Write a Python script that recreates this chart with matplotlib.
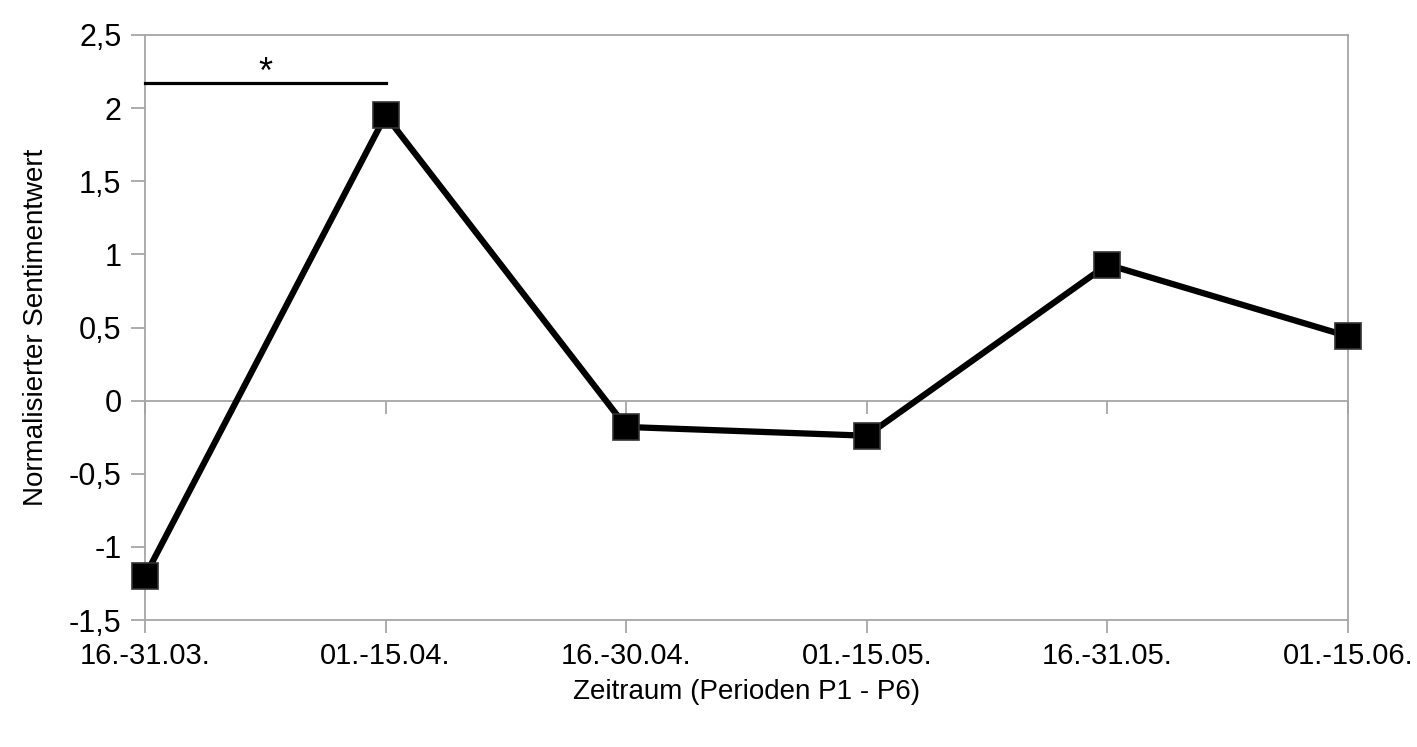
import matplotlib
matplotlib.use('Agg')
import matplotlib.pyplot as plt

# data
perioden = ['16.-31.03.', '01.-15.04.', '16.-30.04.', '01.-15.05.', '16.-31.05.', '01.-15.06.']
sentiment = [-1.2, 1.95, -0.18, -0.24, 0.93, 0.44]
y_ticks = [-1.5, -1, -0.5, 0, 0.5, 1, 1.5, 2, 2.5]
y_ticklabels = ['-1,5', '-1', '-0,5', '0', '0,5', '1', '1,5', '2', '2,5']
sig_pair = [0, 1]
sig_level = 2.17

plt.rcParams['font.family'] = ['Liberation Sans', 'DejaVu Sans']
grey = '#a6a6a6'

fig = plt.figure(figsize=(14.17, 7.47), dpi=100)
ax = fig.add_axes([145/1417, 1-620/747, (1348-145)/1417, (620-35)/747])

x = list(range(len(perioden)))
ax.plot(x, sentiment, color='black', linewidth=4.5, marker='s', markersize=19,
        markerfacecolor='black', markeredgecolor='#333333', markeredgewidth=1.2,
        solid_joinstyle='miter', clip_on=False, zorder=5)

ax.set_xlim(0, len(perioden)-1)
ax.set_ylim(y_ticks[0], y_ticks[-1])

ax.set_yticks(y_ticks)
ax.set_yticklabels(y_ticklabels)
ax.set_xticks(x)
ax.set_xticklabels(perioden)

for s in ax.spines.values():
    s.set_color(grey)
    s.set_linewidth(1.3)

ax.tick_params(axis='y', length=10, width=1.3, color=grey, labelsize=22, pad=7)
ax.tick_params(axis='x', length=9, width=1.3, color=grey, labelsize=21, pad=7)

# zero line with its own ticks
zero_pos = (0 - y_ticks[0]) / (y_ticks[-1] - y_ticks[0])
zero_ticks = ax.secondary_xaxis(zero_pos)
zero_ticks.set_xticks(x)
zero_ticks.set_xticklabels([])
zero_ticks.tick_params(axis='x', length=9, width=1.3, color=grey, direction='out')
zero_ticks.spines['bottom'].set_color(grey)
zero_ticks.spines['bottom'].set_linewidth(1.3)

# significance marker
ax.plot(sig_pair, [sig_level, sig_level], color='black', linewidth=2.3, clip_on=False, zorder=6)
ax.text(sum(sig_pair)/2, sig_level - 0.05, '*', ha='center', va='bottom', fontsize=26)

ax.set_xlabel('Zeitraum (Perioden P1 - P6)', fontsize=20, labelpad=6)
ax.set_ylabel('Normalisierter Sentimentwert', fontsize=20, labelpad=14)

fig.savefig('out.png', dpi=100)
